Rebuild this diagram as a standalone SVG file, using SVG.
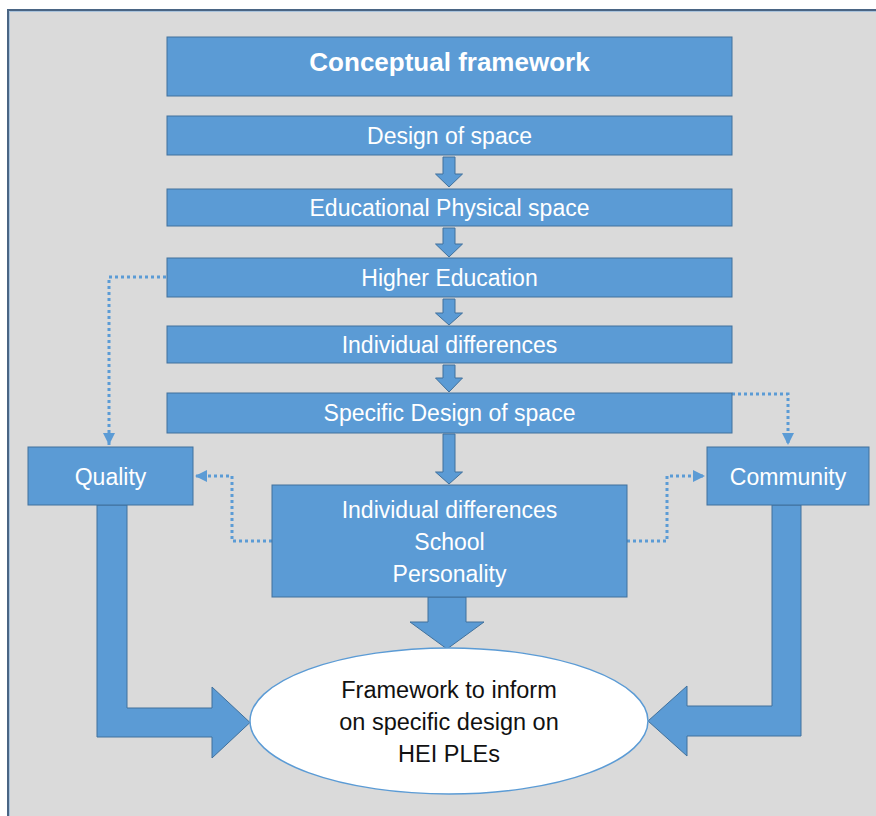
<svg xmlns="http://www.w3.org/2000/svg" width="876" height="816" viewBox="0 0 876 816">
  <style>
    .box { fill: #5b9bd5; stroke: #41719c; stroke-width: 1; }
    .blk { fill: #5b9bd5; stroke: #41719c; stroke-width: 1; }
    .lbl { font-family: "Liberation Sans", Arial, sans-serif; font-size: 23px; fill: #ffffff; text-anchor: middle; }
    .ttl { font-family: "Liberation Sans", Arial, sans-serif; font-size: 26px; font-weight: bold; fill: #ffffff; text-anchor: middle; }
    .dark { font-family: "Liberation Sans", Arial, sans-serif; font-size: 23.5px; fill: #111111; text-anchor: middle; }
    .dot { fill: none; stroke: #5b9bd5; stroke-width: 3; stroke-dasharray: 3 3; }
  </style>
  <defs>
    <marker id="tip" viewBox="0 0 10 10" refX="10" refY="5" markerWidth="4" markerHeight="4" orient="auto" markerUnits="strokeWidth">
      <path d="M0,0 L10,5 L0,10 z" fill="#5b9bd5"/>
    </marker>
  </defs>

  <!-- page background and frame -->
  <rect x="0" y="0" width="876" height="816" fill="#ffffff"/>
  <rect x="7" y="9" width="880" height="820" fill="#dadada"/>
  <path d="M8,830 V10 H880" fill="none" stroke="#4a6584" stroke-width="2"/>
  <path d="M9.5,830 V11.5 H880" fill="none" stroke="#a9c3dc" stroke-width="1"/>

  <!-- connectors -->
  <g id="connectors">
    <!-- chain of small down arrows -->
    <path class="blk" d="M443,157 H455 V174 H462.5 L449,187 L435.5,174 H443 Z"/>
    <path class="blk" d="M443,228 H455 V244 H462.5 L449,257 L435.5,244 H443 Z"/>
    <path class="blk" d="M443,299 H455 V313 H462.5 L449,325 L435.5,313 H443 Z"/>
    <path class="blk" d="M443,365 H455 V378 H462.5 L449,392 L435.5,378 H443 Z"/>
    <path class="blk" d="M443,434 H455 V472 H462.5 L449,484 L435.5,472 H443 Z"/>
    <!-- wide block arrows into the outcome -->
    <path class="blk" d="M428,597 H466 V622 H484 L447,649 L410,622 H428 Z"/>
    <path class="blk" d="M97,505 H127 V708 H212 V687 L250,722.5 L212,758 V737 H97 Z"/>
    <path class="blk" d="M772,505 H801 V736 H687 V756 L648,721 L687,686 V706 H772 Z"/>
    <!-- dotted links -->
    <path class="dot" d="M166,277 H109 V445" marker-end="url(#tip)"/>
    <path class="dot" d="M272,541 H232 V476 H195" marker-end="url(#tip)"/>
    <path class="dot" d="M732,394 H788 V445" marker-end="url(#tip)"/>
    <path class="dot" d="M627,541 H667 V476 H705" marker-end="url(#tip)"/>
  </g>

  <g id="conceptual-framework">
    <rect class="box" x="167" y="37" width="565" height="59"/>
    <text class="ttl" x="449.5" y="71">Conceptual framework</text>
  </g>
  <g id="design-of-space">
    <rect class="box" x="167" y="116" width="565" height="39"/>
    <text class="lbl" x="449.5" y="144">Design of space</text>
  </g>
  <g id="educational-physical-space">
    <rect class="box" x="167" y="189" width="565" height="37"/>
    <text class="lbl" x="449.5" y="216">Educational Physical space</text>
  </g>
  <g id="higher-education">
    <rect class="box" x="167" y="258" width="565" height="39"/>
    <text class="lbl" x="449.5" y="286">Higher Education</text>
  </g>
  <g id="individual-differences">
    <rect class="box" x="167" y="326" width="565" height="37"/>
    <text class="lbl" x="449.5" y="353">Individual differences</text>
  </g>
  <g id="specific-design">
    <rect class="box" x="167" y="393" width="565" height="40"/>
    <text class="lbl" x="449.5" y="421">Specific Design of space</text>
  </g>
  <g id="quality">
    <rect class="box" x="28" y="447" width="165" height="58"/>
    <text class="lbl" x="110.5" y="485">Quality</text>
  </g>
  <g id="community">
    <rect class="box" x="707" y="447" width="162" height="58"/>
    <text class="lbl" x="788" y="485">Community</text>
  </g>
  <g id="factors">
    <rect class="box" x="272" y="485" width="355" height="112"/>
    <text class="lbl" x="449.5" y="518">Individual differences</text>
    <text class="lbl" x="449.5" y="550">School</text>
    <text class="lbl" x="449.5" y="582">Personality</text>
  </g>
  <g id="outcome">
    <ellipse cx="449" cy="721" rx="199" ry="73" fill="#ffffff" stroke="#5b9bd5" stroke-width="1.5"/>
    <text class="dark" x="449" y="698">Framework to inform</text>
    <text class="dark" x="449" y="730">on specific design on</text>
    <text class="dark" x="449" y="762">HEI PLEs</text>
  </g>
</svg>
